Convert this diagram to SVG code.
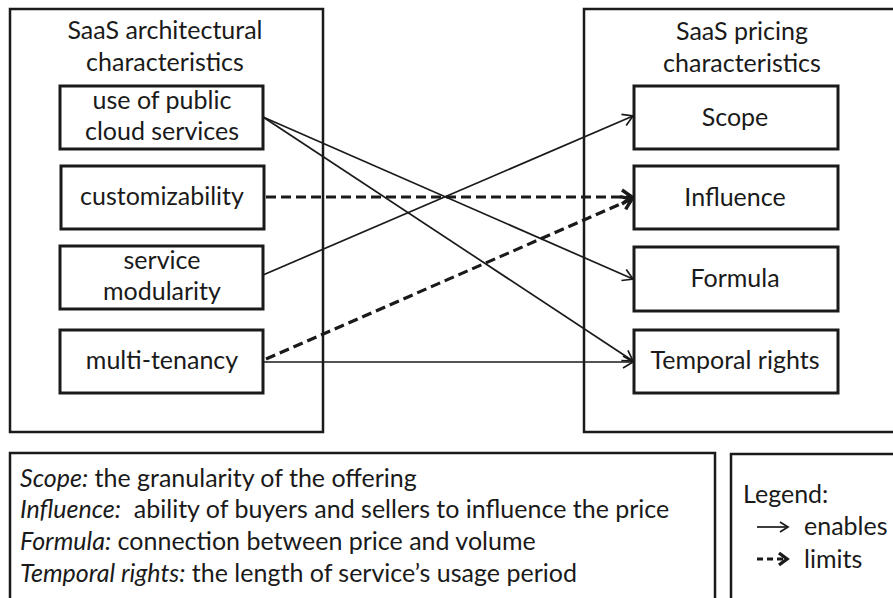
<svg xmlns="http://www.w3.org/2000/svg" width="893" height="598" viewBox="0 0 893 598">
  <style>
    .frame { fill: #fff; stroke: #1a1a1a; stroke-width: 2.5; }
    .node rect { fill: #fff; stroke: #1a1a1a; stroke-width: 3; }
    text { font-family: Lato, "Open Sans", "Liberation Sans", sans-serif; fill: #1a1a1a; }
    .lbl { font-size: 25px; text-anchor: middle; }
    .def { font-size: 25px; }
    .def tspan.k { font-style: italic; }
    .enables { fill: none; stroke: #1a1a1a; stroke-width: 1.7; marker-end: url(#openHead); }
    .limits { fill: none; stroke: #1a1a1a; stroke-width: 3.2; stroke-dasharray: 10 5; marker-end: url(#boldHead); }
  </style>
  <defs>
    <marker id="openHead" markerUnits="userSpaceOnUse" markerWidth="14" markerHeight="14" refX="12" refY="7" orient="auto" overflow="visible">
      <path d="M2,1 L12,7 L2,13" fill="none" stroke="#1a1a1a" stroke-width="1.7" stroke-linejoin="miter"/>
    </marker>
    <marker id="boldHead" markerUnits="userSpaceOnUse" markerWidth="16" markerHeight="16" refX="13" refY="8" orient="auto" overflow="visible">
      <path d="M3,1 L13,8 L3,15" fill="none" stroke="#1a1a1a" stroke-width="3.4" stroke-linejoin="miter"/>
    </marker>
  </defs>

  <rect width="893" height="598" fill="#fff"/>

  <!-- outer containers -->
  <g id="architectural">
    <rect class="frame" x="10" y="9" width="313" height="423"/>
    <text class="lbl" x="165" y="39">SaaS architectural</text>
    <text class="lbl" x="165" y="71">characteristics</text>
  </g>
  <g id="pricing">
    <rect class="frame" x="584" y="9" width="320" height="423"/>
    <text class="lbl" x="742" y="40">SaaS pricing</text>
    <text class="lbl" x="742" y="72">characteristics</text>
  </g>

  <!-- architectural characteristics -->
  <g id="public-cloud" class="node">
    <rect x="60" y="86" width="203" height="63"/>
    <text class="lbl" x="162" y="109">use of public</text>
    <text class="lbl" x="162" y="140">cloud services</text>
  </g>
  <g id="customizability" class="node">
    <rect x="61" y="166" width="203" height="63"/>
    <text class="lbl" x="162" y="205">customizability</text>
  </g>
  <g id="modularity" class="node">
    <rect x="60" y="246" width="203" height="63"/>
    <text class="lbl" x="162" y="269">service</text>
    <text class="lbl" x="162" y="300">modularity</text>
  </g>
  <g id="multi-tenancy" class="node">
    <rect x="60" y="330" width="203" height="63"/>
    <text class="lbl" x="162" y="369">multi-tenancy</text>
  </g>

  <!-- pricing characteristics -->
  <g id="scope" class="node">
    <rect x="634" y="86" width="204" height="63"/>
    <text class="lbl" x="735" y="126">Scope</text>
  </g>
  <g id="influence" class="node">
    <rect x="634" y="166" width="204" height="63"/>
    <text class="lbl" x="735" y="206">Influence</text>
  </g>
  <g id="formula" class="node">
    <rect x="634" y="247" width="204" height="64"/>
    <text class="lbl" x="735" y="287">Formula</text>
  </g>
  <g id="temporal" class="node">
    <rect x="634" y="330" width="204" height="63"/>
    <text class="lbl" x="735" y="369">Temporal rights</text>
  </g>

  <!-- connectors -->
  <g id="connectors">
    <line class="enables" x1="263" y1="117" x2="633" y2="279"/>
    <line class="enables" x1="263" y1="117" x2="633" y2="361"/>
    <line class="enables" x1="263" y1="275" x2="633" y2="116"/>
    <line class="enables" x1="263" y1="362" x2="633" y2="362"/>
    <line class="limits" x1="266" y1="197" x2="632" y2="197"/>
    <line class="limits" x1="266" y1="359" x2="632" y2="199"/>
  </g>

  <!-- definitions -->
  <g id="definitions">
    <rect class="frame" x="10" y="453" width="705" height="160"/>
    <text class="def" x="20" y="487"><tspan class="k">Scope:</tspan> the granularity of the offering</text>
    <text class="def" x="20" y="518" xml:space="preserve"><tspan class="k">Influence:</tspan>  ability of buyers and sellers to influence the price</text>
    <text class="def" x="20" y="550"><tspan class="k">Formula:</tspan> connection between price and volume</text>
    <text class="def" x="20" y="582"><tspan class="k">Temporal rights:</tspan> the length of service’s usage period</text>
  </g>

  <!-- legend -->
  <g id="legend">
    <rect class="frame" x="731" y="454" width="180" height="160"/>
    <text class="def" x="743" y="503">Legend:</text>
    <line x1="757" y1="527" x2="787" y2="527" stroke="#1a1a1a" stroke-width="1.7"/>
    <path d="M780,522 L788,527 L780,532" fill="none" stroke="#1a1a1a" stroke-width="1.7"/>
    <text class="def" x="804" y="535">enables</text>
    <line x1="757" y1="559" x2="785" y2="559" stroke="#1a1a1a" stroke-width="3.2" stroke-dasharray="6 4"/>
    <path d="M779,553 L787,559 L779,565" fill="none" stroke="#1a1a1a" stroke-width="3.4"/>
    <text class="def" x="804" y="568">limits</text>
  </g>
</svg>
